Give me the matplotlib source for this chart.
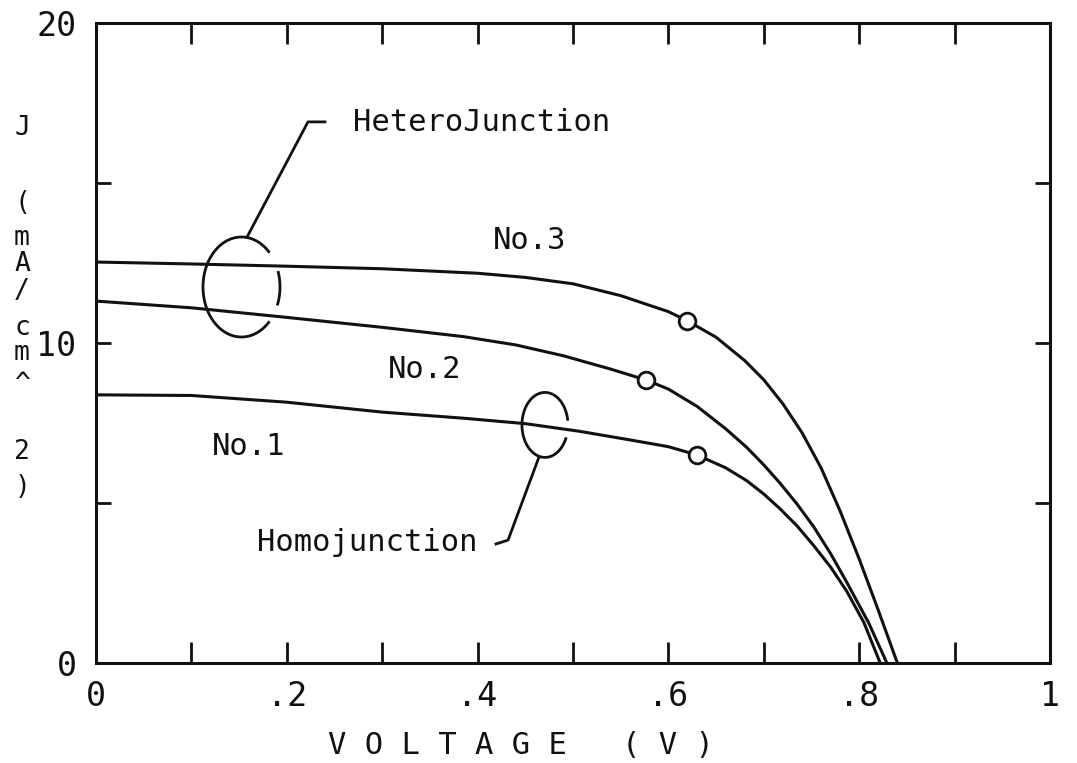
import numpy as np
import matplotlib
matplotlib.use("Agg")
import matplotlib.pyplot as plt

# J-V characteristics of three cells (voltage in V, current density in mA/cm^2)
v_no3 = [0.0, 0.10, 0.20, 0.30, 0.40, 0.45, 0.50, 0.55, 0.60, 0.62, 0.65, 0.68, 0.70,
         0.72, 0.74, 0.76, 0.78, 0.80, 0.82, 0.84]
j_no3 = [12.53, 12.47, 12.40, 12.32, 12.18, 12.05, 11.85, 11.48, 10.98, 10.69, 10.18, 9.45, 8.85,
         8.10, 7.20, 6.10, 4.75, 3.25, 1.65, 0.0]

v_no2 = [0.0, 0.10, 0.20, 0.30, 0.385, 0.44, 0.49, 0.54, 0.577, 0.60, 0.63, 0.66, 0.682,
         0.70, 0.717, 0.735, 0.752, 0.77, 0.787, 0.81, 0.829]
j_no2 = [11.31, 11.10, 10.80, 10.49, 10.20, 9.94, 9.60, 9.18, 8.84, 8.56, 8.02, 7.32, 6.74,
         6.19, 5.62, 4.96, 4.27, 3.42, 2.52, 1.25, 0.0]

v_no1 = [0.0, 0.10, 0.20, 0.30, 0.385, 0.45, 0.507, 0.56, 0.60, 0.63, 0.66, 0.682, 0.70,
         0.717, 0.735, 0.752, 0.77, 0.787, 0.805, 0.822]
j_no1 = [8.38, 8.36, 8.15, 7.84, 7.65, 7.48, 7.24, 6.97, 6.76, 6.50, 6.10, 5.70, 5.28,
         4.82, 4.28, 3.68, 3.00, 2.24, 1.26, 0.0]

# maximum power points
mpp_v = [0.620, 0.577, 0.630]
mpp_j = [10.69, 8.84, 6.50]

x_ticks = [0, 0.2, 0.4, 0.6, 0.8, 1.0]
x_tick_labels = ["0", ".2", ".4", ".6", ".8", "1"]
y_ticks = [0, 10, 20]
y_tick_labels = ["0", "10", "20"]

MONO = "DejaVu Sans Mono"
INK = "#111111"

fig = plt.figure(figsize=(10.77, 7.63), dpi=100)
ax = fig.add_axes([96 / 1077, 1 - 663 / 763, (1050 - 96) / 1077, (663 - 23) / 763])
ax.set_xlim(0, 1)
ax.set_ylim(0, 20)

for v, j in ((v_no3, j_no3), (v_no2, j_no2), (v_no1, j_no1)):
    ax.plot(v, j, color=INK, lw=2.2, solid_capstyle="round", solid_joinstyle="round", zorder=3)
ax.plot(mpp_v, mpp_j, ls="none", marker="o", ms=12, mfc="white", mec=INK, mew=2.0, zorder=4)

# frame and ticks
for s in ax.spines.values():
    s.set_linewidth(2.2)
    s.set_color(INK)
ax.set_xticks(x_ticks)
ax.set_xticklabels(x_tick_labels)
ax.set_xticks(np.arange(0.1, 1.0, 0.2), minor=True)
ax.set_yticks(y_ticks)
ax.set_yticklabels(y_tick_labels)
ax.set_yticks([5, 15], minor=True)
ax.tick_params(which="both", direction="in", top=True, right=True, color=INK, width=2)
ax.tick_params(axis="x", which="both", length=15)
ax.tick_params(axis="y", which="both", length=11)
ax.tick_params(axis="x", labelsize=24, pad=12, labelcolor=INK)
ax.tick_params(axis="y", labelsize=24, pad=14, labelcolor=INK)
for lab in ax.get_xticklabels():
    lab.set_fontfamily(MONO)
for lab in ax.get_yticklabels():
    lab.set_fontfamily(MONO)

# curve labels
txt = dict(fontsize=22, family=MONO, color=INK, va="center")
ax.text(0.416, 13.19, "No.3", **txt)
ax.text(0.306, 9.16, "No.2", **txt)
ax.text(0.1216, 6.75, "No.1", **txt)


def ellipse_arc(cx, cy, w, h, t0, t1):
    t = np.radians(np.linspace(t0, t1, 120))
    return cx + w / 2 * np.cos(t), cy + h / 2 * np.sin(t)


# heterojunction group marker
for t0, t1 in ((45, 315), (-20, 17)):
    ex, ey = ellipse_arc(0.1525, 11.75, 0.0807, 3.125, t0, t1)
    ax.plot(ex, ey, color=INK, lw=2.0, zorder=3)
ax.plot([0.1583, 0.2222, 0.240], [13.31, 16.91, 16.91], color=INK, lw=2.0)
ax.text(0.2694, 16.9, "HeteroJunction", **txt)

# homojunction group marker
ex, ey = ellipse_arc(0.4706, 7.44, 0.0482, 2.03, 10, 335)
ax.plot(ex, ey, color=INK, lw=2.0, zorder=3)
ax.plot([0.4644, 0.4319, 0.4193], [6.44, 3.84, 3.72], color=INK, lw=2.0)
ax.text(0.4004, 3.78, "Homojunction", ha="right", **txt)

# axis titles
fig.text(521 / 1077, 1 - 745 / 763, "V O L T A G E   ( V )", fontsize=22, family=MONO,
         color=INK, ha="center", va="center")
ylab_chars = ["J", "(", "m", "A", "/", "c", "m", "^", "2", ")"]
ylab_rows = [128, 203, 238, 264, 291, 328, 353, 384, 452, 487]
for ch, yy in zip(ylab_chars, ylab_rows):
    fig.text(22 / 1077, 1 - yy / 763, ch, fontsize=19, family=MONO, color=INK,
             ha="center", va="center")

fig.savefig("out.png", dpi=100)
